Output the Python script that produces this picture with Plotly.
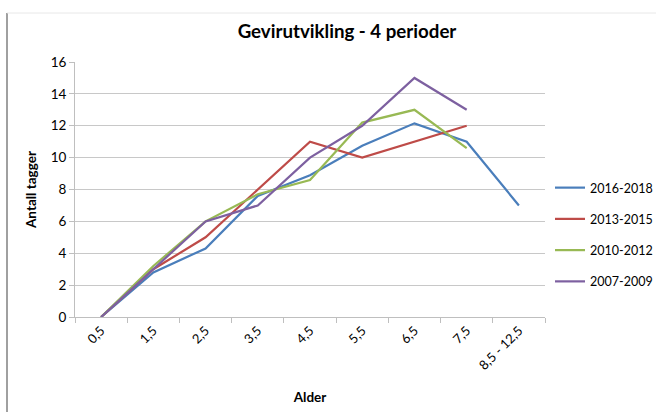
import plotly.graph_objects as go

categories = ["0,5", "1,5", "2,5", "3,5", "4,5", "5,5", "6,5", "7,5", "8,5 - 12,5"]
s2016_2018 = [0, 2.8, 4.3, 7.6, 8.9, 10.75, 12.15, 11.0, 7.0]
s2013_2015 = [0, 3.0, 5.0, 8.0, 11.0, 10.0, 11.0, 12.0]
s2010_2012 = [0, 3.2, 6.0, 7.7, 8.6, 12.2, 13.0, 10.6]
s2007_2009 = [0, 3.0, 6.0, 7.0, 10.0, 12.0, 15.0, 13.0]

series = [
    ("2016-2018", s2016_2018, "#4a7ebb"),
    ("2013-2015", s2013_2015, "#be4b48"),
    ("2010-2012", s2010_2012, "#98b954"),
    ("2007-2009", s2007_2009, "#7d60a0"),
]

FONT = "Lato, 'Open Sans', sans-serif"

# plot area: x 75..545, y 62..317
L, R, T, B = 75, 545, 62, 317
PW, PH = R - L, B - T

def px(x):
    return (x - L) / PW

def py(y):
    return (B - y) / PH

fig = go.Figure()
for i, (name, vals, col) in enumerate(series):
    fig.add_trace(go.Scatter(
        x=categories[:len(vals)], y=vals, name=name, mode="lines",
        line=dict(color=col, width=2.2), legendgroup=str(i)))

fig.update_layout(
    width=656, height=412,
    margin=dict(l=L, r=656 - R, t=T, b=412 - B, autoexpand=False),
    paper_bgcolor="white", plot_bgcolor="white",
    font=dict(family=FONT, size=13, color="#000000"),
    title=dict(text="<b>Gevirutvikling - 4 perioder</b>", xref="container", x=347 / 656,
               xanchor="center", y=1 - 31 / 412, yanchor="middle",
               font=dict(size=18.7, family=FONT)),
    showlegend=True,
    legend=dict(x=px(550), xanchor="left", y=py(234.5), yanchor="middle",
                traceorder="grouped", tracegroupgap=12, itemwidth=30,
                font=dict(size=12.5, family=FONT), bgcolor="rgba(0,0,0,0)"),
    xaxis=dict(
        type="category", categoryorder="array", categoryarray=categories,
        range=[-0.5, len(categories) - 0.5],
        showgrid=False, showline=True, linecolor="#bfbfbf", linewidth=1,
        ticks="outside", tickson="boundaries", ticklen=5, tickcolor="#bfbfbf",
        tickangle=-45, tickfont=dict(size=13),
        title=dict(text="<b>Alder</b>", font=dict(size=13.5), standoff=20),
    ),
    yaxis=dict(
        range=[0, 16], dtick=2, showgrid=True, gridcolor="#c8c8c8", gridwidth=1,
        showline=True, linecolor="#bfbfbf", linewidth=1,
        ticks="outside", ticklen=5, tickcolor="#bfbfbf", tickfont=dict(size=13.5),
        zeroline=False,
        title=dict(text="<b>Antall tagger</b>", font=dict(size=13.5), standoff=10),
    ),
    shapes=[
        dict(type="line", xref="paper", yref="paper",
             x0=px(7), x1=px(7), y0=py(13), y1=py(412),
             line=dict(color="#808080", width=1.5)),
        dict(type="line", xref="paper", yref="paper",
             x0=px(7), x1=px(656), y0=py(13), y1=py(13),
             line=dict(color="#e8e8e8", width=1)),
    ],
)

fig.write_html("out.html",
               config={"displayModeBar": False},
               post_script="document.body.style.margin='0';document.body.style.overflow='hidden';")
